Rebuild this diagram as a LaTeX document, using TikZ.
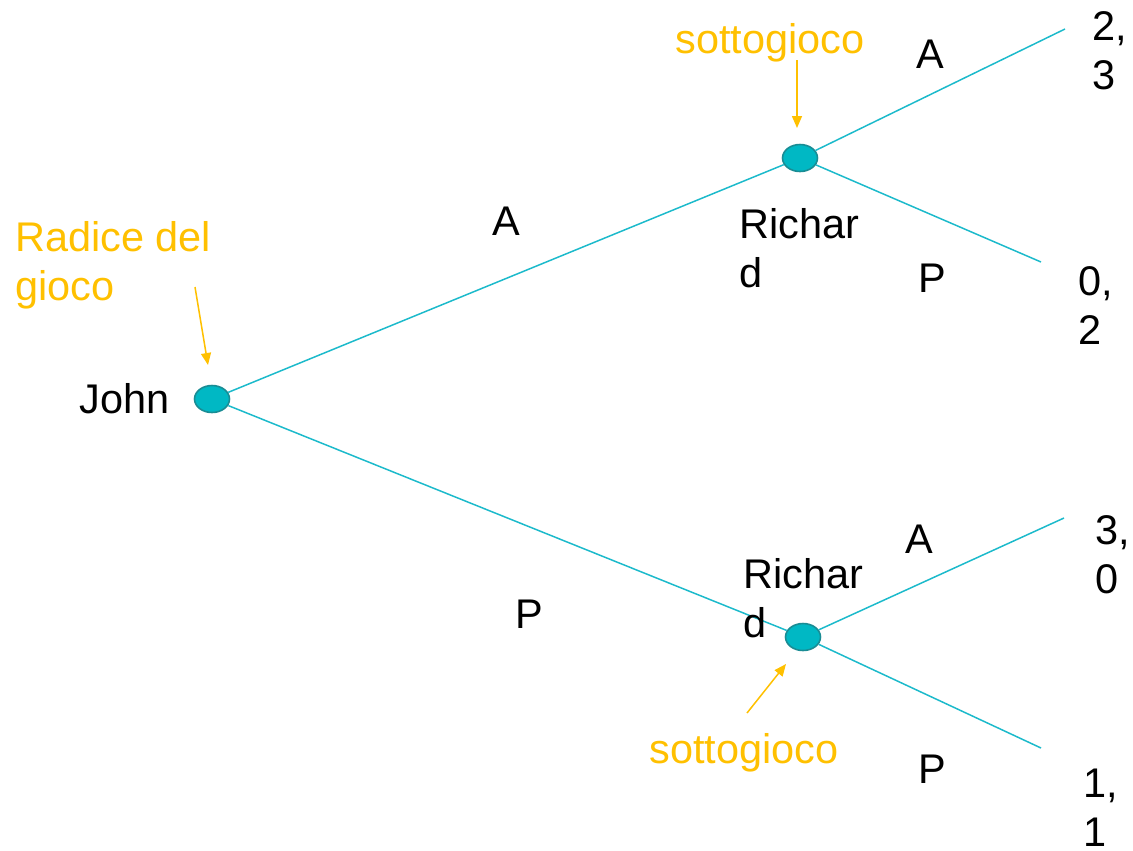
\documentclass[tikz,border=0pt]{standalone}
\usepackage{fontspec}
\setmainfont{Liberation Sans}
\usetikzlibrary{shapes.geometric,arrows.meta}
\definecolor{nodefill}{HTML}{00B8C4}
\definecolor{nodeedge}{HTML}{1A8C94}
\definecolor{branch}{HTML}{1CBACB}
\definecolor{note}{HTML}{FFC000}

\begin{document}
\begin{tikzpicture}[x=0.02cm,y=-0.02cm,
    mossa/.style={ellipse,fill=nodefill,draw=nodeedge,line width=0.9pt,minimum width=0.7cm,minimum height=0.54cm,inner sep=0pt},
    ramo/.style={draw=branch,line width=0.85pt},
    etic/.style={anchor=base west,inner sep=0pt,align=left,font=\fontsize{23.6}{27.8}\selectfont},
    nota/.style={etic,text=note},
    freccia/.style={draw=note,line width=0.85pt,-{Triangle[length=0.24cm,width=0.2cm]}}]
      \useasboundingbox (0,0) rectangle (1133,850);
      % nodi del gioco
      \node[mossa] (john) at (212,399) {};
      \node[mossa] (rich1) at (800,158) {};
      \node[mossa] (rich2) at (803,637) {};
      \coordinate (f1) at (1065,29);
      \coordinate (f2) at (1041,262);
      \coordinate (f3) at (1064,518);
      \coordinate (f4) at (1041,748);
      \draw[ramo] (john) -- (rich1);
      \draw[ramo] (john) -- (rich2);
      \draw[ramo] (rich1) -- (f1);
      \draw[ramo] (rich1) -- (f2);
      \draw[ramo] (rich2) -- (f3);
      \draw[ramo] (rich2) -- (f4);
      % etichette (base = ultima riga)
      \node[etic] (tjohn) at (79,413) {John};
      \node[etic] (trich1) at (739,287) {Richar\\d};
      \node[etic] (trich2) at (743,637) {Richar\\d};
      \node[etic] (a0) at (492,235) {A};
      \node[etic] (p0) at (515,628) {P};
      \node[etic] (a1) at (916,68) {A};
      \node[etic] (p1) at (918,292) {P};
      \node[etic] (a2) at (905,553) {A};
      \node[etic] (p2) at (918,783) {P};
      % payoff
      \node[etic] (u1) at (1092,89) {2,\\3};
      \node[etic] (u2) at (1078,344) {0,\\2};
      \node[etic] (u3) at (1095,593) {3,\\0};
      \node[etic] (u4) at (1083,846) {1,\\1};
      % note
      \node[nota] (radice) at (15,300) {Radice del\\gioco};
      \node[nota] (sotto1) at (675,53) {sottogioco};
      \node[nota] (sotto2) at (649,763) {sottogioco};
      \coordinate (n1) at (195,287);
      \coordinate (n2) at (797,60);
      \coordinate (n3) at (747,713);
      \draw[freccia] (n1) -- (208,365);
      \draw[freccia] (n2) -- (797,128);
      \draw[freccia] (n3) -- (786,664);
\end{tikzpicture}
\end{document}
